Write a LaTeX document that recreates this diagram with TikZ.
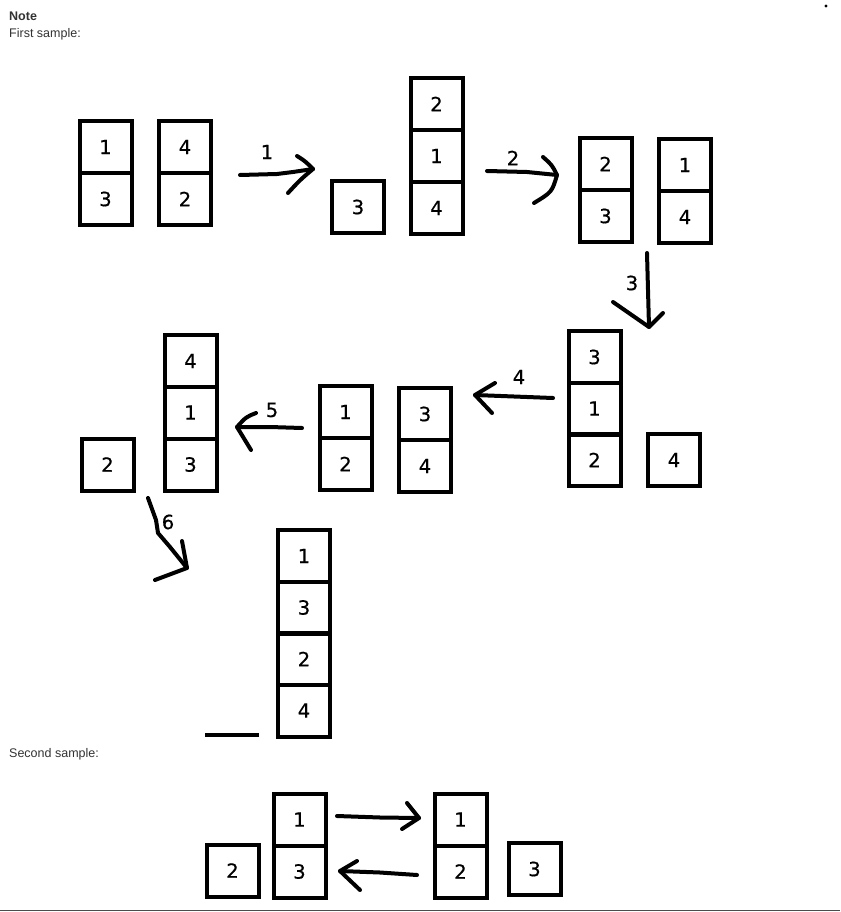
\documentclass[tikz,border=0pt]{standalone}
\usepackage{fontspec}
\setmainfont{DejaVu Sans}[FakeBold=0.6]
\newfontfamily\uifont{Liberation Sans}
\begin{document}
\begin{tikzpicture}[x=1pt,y=-1pt,
  cell/.style={draw=black,line width=4pt,minimum width=52pt,minimum height=52pt,inner sep=0pt,font=\fontsize{19.5}{21}\selectfont},
  hand/.style={draw=black,line width=4pt,line cap=round,line join=round},
  lbl/.style={inner sep=0pt,font=\fontsize{19.5}{21}\selectfont},
  ui/.style={inner sep=0pt,anchor=base west,text=black!80,font=\uifont\fontsize{12.5}{14}\selectfont}]
\useasboundingbox (0,0) rectangle (840,912);
\fill[white] (0,0) rectangle (840,912);
% header texts
\node[ui,font=\uifont\bfseries\fontsize{12.5}{14}\selectfont] (note) at (9,21) {Note};
\node[ui] (first) at (9,38) {First sample:};
\node[ui] (second) at (9,757) {Second sample:};
\fill[black] (826,6) circle (1.6);
\draw[black!70,line width=1.5pt] (0,910.5) -- (840,910.5);
% ---- step 0
\node[cell] (a1) at (105.5,147) {1};
\node[cell] (a2) at (105.5,199) {3};
\node[cell] (b1) at (185,147) {4};
\node[cell] (b2) at (185,199) {2};
% ---- step 1
\node[cell] (c0) at (358,207) {3};
\node[cell] (c1) at (436.5,104) {2};
\node[cell] (c2) at (436.5,156) {1};
\node[cell] (c3) at (436.5,208) {4};
% ---- step 2
\node[cell] (d1) at (605.5,164) {2};
\node[cell] (d2) at (605.5,216) {3};
\node[cell] (e1) at (685,165) {1};
\node[cell] (e2) at (685,217) {4};
% ---- step 3
\node[cell] (f1) at (594.5,357) {3};
\node[cell] (f2) at (594.5,408.5) {1};
\node[cell] (f3) at (594.5,460) {2};
\node[cell] (f0) at (674,460) {4};
% ---- step 4
\node[cell] (h1) at (345.5,412) {1};
\node[cell] (h2) at (345.5,464) {2};
\node[cell] (g1) at (425,414) {3};
\node[cell] (g2) at (425,466) {4};
% ---- step 5
\node[cell] (i0) at (107.5,464.5) {2};
\node[cell] (i1) at (190.5,361) {4};
\node[cell] (i2) at (190.5,412.5) {1};
\node[cell] (i3) at (190.5,464.5) {3};
% ---- step 6
\node[cell] (j1) at (304,556) {1};
\node[cell] (j2) at (304,607.5) {3};
\node[cell] (j3) at (304,659) {2};
\node[cell] (j4) at (304,710.5) {4};
\coordinate (u1) at (205,735);
\coordinate (u2) at (259,735);
\draw[hand,line cap=butt] (u1) -- (u2);
% ---- second sample
\node[cell] (k0) at (232.5,870.5) {2};
\node[cell] (k1) at (299.5,819.5) {1};
\node[cell] (k2) at (299.5,871.5) {3};
\node[cell] (l1) at (460.5,819.5) {1};
\node[cell] (l2) at (460.5,871.5) {2};
\node[cell] (l0) at (534.5,869) {3};
% ---- arrows (hand drawn)
% 1
\coordinate (s1) at (240,175); \coordinate (t1) at (313,169);
\draw[hand] (s1) -- (277,174) -- (293,172) -- (t1);
\draw[hand] (297,156) .. controls (305,161) .. (t1) .. controls (300,180) .. (288,193);
\node[lbl] (n1) at (267,152) {1};
% 2
\coordinate (s2) at (487,171); \coordinate (t2) at (557,175);
\draw[hand] (s2) -- (527,172) -- (t2);
\draw[hand] (543,157) .. controls (552,165) .. (t2) .. controls (552,192) .. (534,203);
\node[lbl] (n2) at (513,158) {2};
% 3
\coordinate (s3) at (647,253); \coordinate (t3) at (649,327);
\draw[hand] (s3) -- (t3);
\draw[hand] (613,302) -- (t3) -- (663,313);
\node[lbl] (n3) at (632,283) {3};
% 4
\coordinate (s4) at (553,398); \coordinate (t4) at (475,395);
\draw[hand] (s4) -- (t4);
\draw[hand] (495,383) -- (t4) -- (492,413);
\node[lbl] (n4) at (519,377) {4};
% 5
\coordinate (s5) at (302,428); \coordinate (t5) at (237,427);
\draw[hand] (s5) -- (270,427) -- (t5);
\draw[hand] (256,413) .. controls (246,417) .. (t5) -- (251,450);
\node[lbl] (n5) at (272,410) {5};
% 6
\coordinate (s6) at (148,498); \coordinate (t6) at (187,568);
\draw[hand] (s6) -- (156,520) -- (158,533) -- (170,547) -- (t6);
\draw[hand] (182,541) -- (t6) -- (155,580);
\node[lbl] (n6) at (168,522) {6};
% second sample arrows
\coordinate (s7) at (337,816); \coordinate (t7) at (419,818);
\draw[hand] (s7) -- (380,817.5) -- (t7);
\draw[hand] (407,803) -- (t7) -- (402,829);
\coordinate (s8) at (417,875); \coordinate (t8) at (340,871);
\draw[hand] (s8) -- (380,872.5) -- (t8);
\draw[hand] (357,861) -- (t8) -- (360,890);
\end{tikzpicture}
\end{document}
